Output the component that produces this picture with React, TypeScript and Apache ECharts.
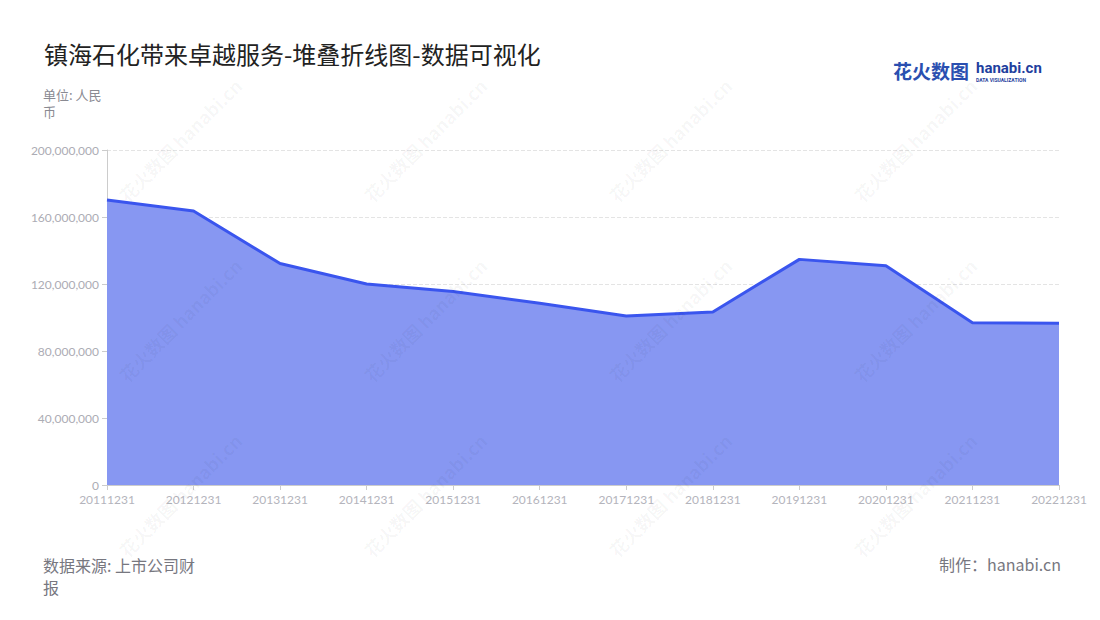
import React, { useEffect, useRef } from 'react'
import * as echarts from 'echarts'

const categories = [
  '20111231', '20121231', '20131231', '20141231', '20151231', '20161231',
  '20171231', '20181231', '20191231', '20201231', '20211231', '20221231'
]
const revenue = [
  170100000, 163600000, 132200000, 120000000, 115500000, 108500000,
  100900000, 103300000, 134700000, 130900000, 96900000, 96500000
]
const yTicks = { min: 0, max: 200000000, interval: 40000000 }

const CJK = '"Noto Sans CJK SC", "Noto Sans", sans-serif'

const wmCols = [180, 425, 670, 915]
const wmRows = [140, 320, 495]

const App: React.FC = () => {
  const chartRef = useRef<HTMLDivElement>(null)

  useEffect(() => {
    document.body.style.margin = '0'
    if (!chartRef.current) return
    const chart = echarts.init(chartRef.current, undefined, { renderer: 'svg' })

    const watermarks: any[] = []
    wmRows.forEach(y => {
      wmCols.forEach(x => {
        watermarks.push({
          type: 'text',
          x,
          y,
          rotation: Math.PI / 4,
          silent: true,
          z: 100,
          style: {
            text: '花火数图 hanabi.cn',
            fill: 'rgba(0,0,0,0.04)',
            font: `bold 18px ${CJK}`,
            align: 'center',
            verticalAlign: 'middle'
          }
        })
      })
    })

    const option: echarts.EChartsOption = {
      animation: false,
      textStyle: { fontFamily: CJK },
      title: {
        text: '镇海石化带来卓越服务-堆叠折线图-数据可视化',
        left: 39,
        top: 36,
        textStyle: { fontSize: 24, fontWeight: 'normal', color: '#222', fontFamily: CJK }
      },
      grid: { left: 107, right: 41, top: 150, bottom: 135 },
      xAxis: {
        type: 'category',
        data: categories,
        boundaryGap: false,
        axisLine: { lineStyle: { color: '#ccc' } },
        axisTick: { lineStyle: { color: '#ccc' } },
        axisLabel: { color: '#b4b4bc', fontSize: 12, margin: 8, fontFamily: 'Lato, sans-serif' }
      },
      yAxis: {
        type: 'value',
        min: yTicks.min,
        max: yTicks.max,
        interval: yTicks.interval,
        axisLine: { show: true, lineStyle: { color: '#ccc' } },
        axisTick: { show: true, lineStyle: { color: '#ccc' } },
        axisLabel: {
          color: '#acacb4',
          fontSize: 12,
          fontFamily: 'Lato, sans-serif',
          formatter: (v: number) => v.toLocaleString('en-US')
        },
        splitLine: { lineStyle: { type: 'dashed', color: '#e4e4e4' } }
      },
      series: [
        {
          type: 'line',
          stack: 'total',
          data: revenue,
          symbol: 'none',
          lineStyle: { color: '#3a55ee', width: 3 },
          itemStyle: { color: '#3a55ee' },
          areaStyle: { color: '#8797f2', opacity: 1 }
        }
      ],
      graphic: [
        {
          type: 'text',
          left: 43,
          top: 88,
          style: { text: '单位: 人民', fill: '#8a8a92', font: `13px ${CJK}` }
        },
        {
          type: 'text',
          left: 43,
          top: 105,
          style: { text: '币', fill: '#8a8a92', font: `13px ${CJK}` }
        },
        {
          type: 'text',
          left: 43,
          top: 557,
          style: { text: '数据来源: 上市公司财', fill: '#77777f', font: `16px ${CJK}` }
        },
        {
          type: 'text',
          left: 43,
          top: 579,
          style: { text: '报', fill: '#77777f', font: `16px ${CJK}` }
        },
        {
          type: 'text',
          right: 39,
          top: 556,
          style: {
            text: '制作：hanabi.cn',
            fill: '#77777f',
            font: `16px ${CJK}`
          }
        },
        {
          type: 'text',
          left: 893,
          top: 61,
          style: {
            text: '花火数图',
            fill: '#2a4fb0',
            font: `bold 19px ${CJK}`
          }
        },
        {
          type: 'text',
          left: 976,
          top: 60,
          style: {
            text: 'hanabi.cn',
            fill: '#1f3f9e',
            font: 'bold 15px Roboto, sans-serif'
          }
        },
        {
          type: 'text',
          left: 976,
          top: 77,
          style: {
            text: 'DATA VISUALIZATION',
            fill: '#1f3f9e',
            font: 'bold 5px Roboto, sans-serif'
          }
        },
        ...watermarks
      ]
    }

    chart.setOption(option)
    return () => {
      chart.dispose()
    }
  }, [])

  return <div ref={chartRef} style={{ width: 1100, height: 620 }} />
}

export default App
